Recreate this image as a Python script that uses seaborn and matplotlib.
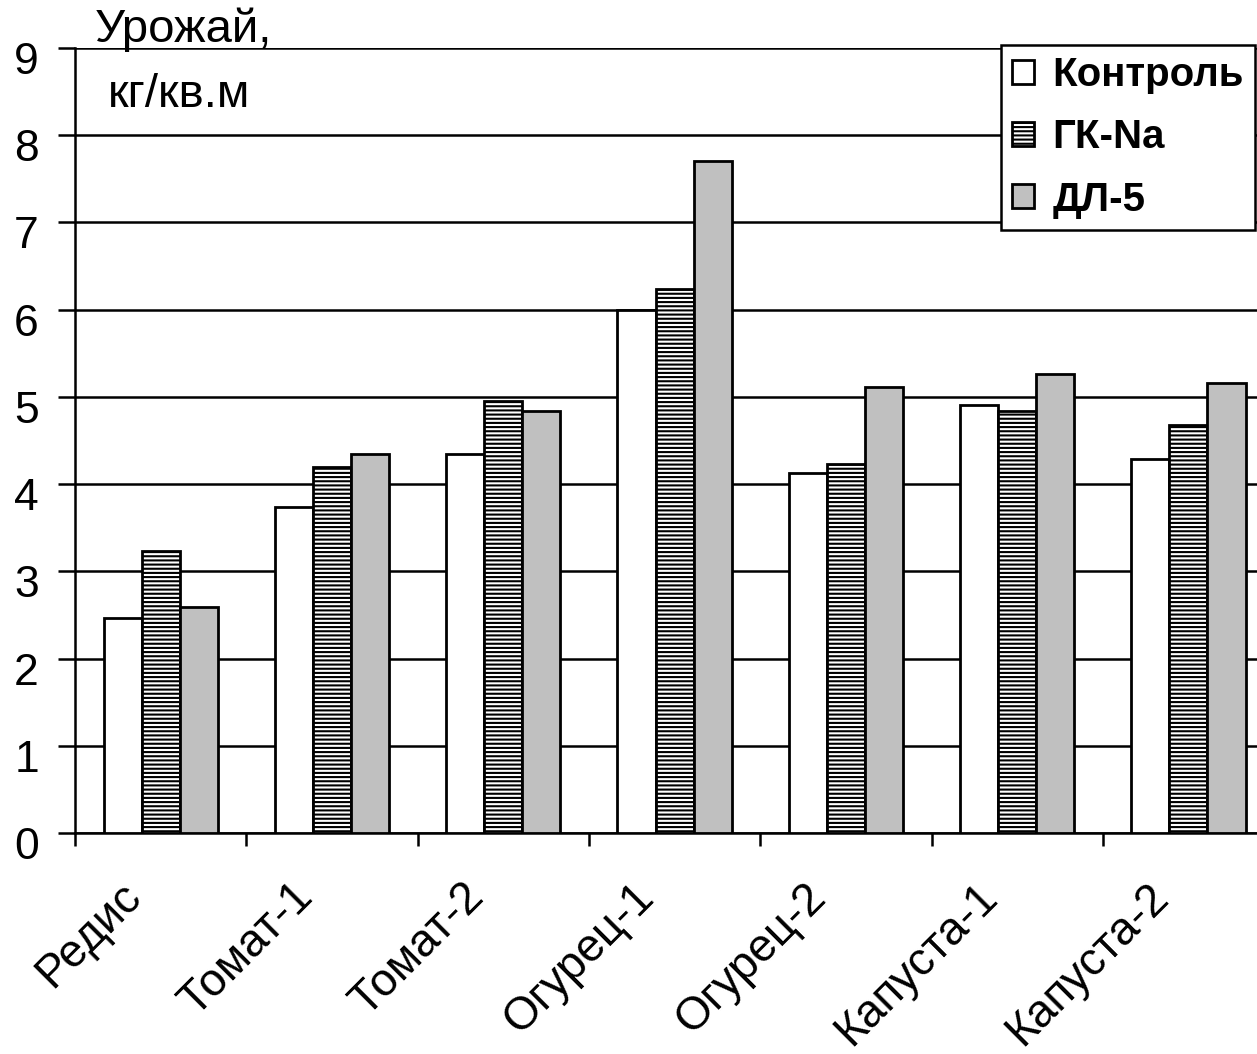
import matplotlib
matplotlib.use("Agg")
import matplotlib.pyplot as plt
import matplotlib.transforms as mtransforms
import numpy as np
import pandas as pd
import seaborn as sns

# Yield data, kg per square metre
crops = ["Редис", "Томат-1", "Томат-2", "Огурец-1", "Огурец-2", "Капуста-1", "Капуста-2"]
treatments = ["Контроль", "ГК-Na", "ДЛ-5"]
control = [2.46, 3.74, 4.34, 6.00, 4.13, 4.91, 4.29]
gk_na = [3.23, 4.20, 4.95, 6.24, 4.23, 4.84, 4.68]
dl_5 = [2.59, 4.34, 4.84, 7.70, 5.11, 5.26, 5.16]
y_ticks = list(range(0, 10))

df = pd.DataFrame({
    "crop": crops * 3,
    "treatment": [treatments[0]] * 7 + [treatments[1]] * 7 + [treatments[2]] * 7,
    "value": control + gk_na + dl_5,
})

sns.set_theme(style="white")
plt.rcParams["font.family"] = ["Liberation Sans", "DejaVu Sans"]
plt.rcParams["text.color"] = "black"
plt.rcParams["axes.labelcolor"] = "black"
plt.rcParams["xtick.color"] = "black"
plt.rcParams["ytick.color"] = "black"
plt.rcParams["hatch.linewidth"] = 1.5
plt.rcParams["hatch.color"] = "black"

W, H = 1257, 1054
fig = plt.figure(figsize=(W / 100, H / 100), dpi=100)
group_px = 171.3
left_px, right_px = 75, W
bottom_px, top_px = 833, 48
ax = fig.add_axes([left_px / W, 1 - bottom_px / H,
                   (right_px - left_px) / W, (bottom_px - top_px) / H])

sns.barplot(data=df, x="crop", y="value", hue="treatment", hue_order=treatments,
            palette=["white", "white", "#c0c0c0"], edgecolor="black",
            linewidth=2.0, width=2 / 3, gap=0, ax=ax, legend=False,
            errorbar=None, zorder=3)

for patch in ax.containers[1].patches:
    patch.set_hatch("----")

ax.set_ylim(0, 9)
ax.set_xlim(-0.5, -0.5 + (right_px - left_px) / group_px)
ax.set_yticks(y_ticks)
ax.set_axisbelow(True)
ax.yaxis.grid(True, color="black", linewidth=1.8)
ax.xaxis.grid(False)

for side in ["top", "right"]:
    ax.spines[side].set_visible(False)
for side in ["left", "bottom"]:
    ax.spines[side].set_color("black")
    ax.spines[side].set_linewidth(1.8)

ax.set_xlabel("")
ax.set_ylabel("")

# Y ticks: outward marks, labels a bit below their gridlines
ax.tick_params(axis="y", which="major", direction="out", length=12, width=1.8,
               color="black", pad=14, labelsize=32, left=True, labelcolor="black")
offset = mtransforms.ScaledTranslation(0, -10 / 100, fig.dpi_scale_trans)
for lab in ax.get_yticklabels():
    lab.set_transform(lab.get_transform() + offset)

# X: category labels, tick marks between groups
ax.set_xticks(np.arange(len(crops)))
ax.set_xticklabels(crops, rotation=45, ha="right", rotation_mode="anchor",
                   fontsize=33, color="black")
ax.tick_params(axis="x", which="major", length=0, pad=40)
xoff = mtransforms.ScaledTranslation(-42 / 100, 14 / 100, fig.dpi_scale_trans)
for lab in ax.get_xticklabels():
    lab.set_transform(lab.get_transform() + xoff)
ax.set_xticks(np.arange(len(crops)) - 0.5, minor=True)
ax.tick_params(axis="x", which="minor", direction="out", length=9, width=1.8,
               color="black", bottom=True)

fig.text(95 / W, 1 - 42 / H, "Урожай,", fontsize=34, ha="left", va="baseline")
fig.text(108 / W, 1 - 107 / H, "кг/кв.м", fontsize=34, ha="left", va="baseline")

leg = ax.legend(ax.containers, treatments, loc="upper right",
                bbox_to_anchor=(1255 / W, 1 - 45 / H), bbox_transform=fig.transFigure,
                prop={"size": 29, "weight": "bold"}, frameon=True, fancybox=False,
                handlelength=0.55, handleheight=0.55, handletextpad=0.45,
                labelspacing=0.6, borderpad=0.28, borderaxespad=0)
leg.get_frame().set_edgecolor("black")
leg.get_frame().set_linewidth(1.8)
leg.get_frame().set_facecolor("white")
leg.get_frame().set_alpha(1)
leg.set_zorder(5)

fig.savefig("out.png", dpi=100)
